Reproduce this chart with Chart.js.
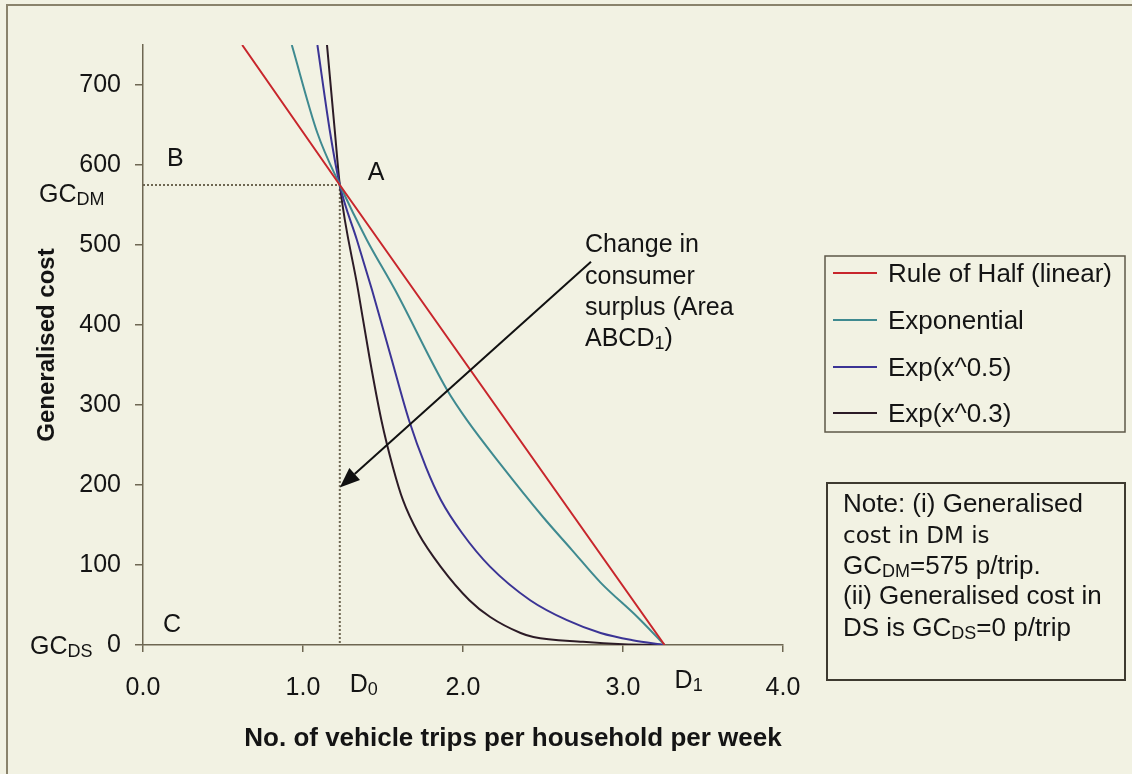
<!DOCTYPE html>
<html>
<head>
<meta charset="utf-8">
<script src="https://cdn.jsdelivr.net/npm/chart.js@4.4.1/dist/chart.umd.min.js"></script>
<style>
  body { margin: 0; background: #f2f2e3; }
  canvas { display: block; }
</style>
</head>
<body>
<canvas id="demandChart" width="1132" height="774"></canvas>
<script>
// series names (legend order)
const seriesNames = ["Rule of Half (linear)", "Exponential", "Exp(x^0.5)", "Exp(x^0.3)"];
const seriesColors = ["#c8262c", "#3f8a90", "#3b3495", "#2c1b26"];

// demand curves: trips per household per week vs generalised cost
const linearX = [0.62, 1.23, 3.26];
const linearY = [750, 575, 0];

const expX = [0.93, 1.09, 1.23, 1.4, 1.575, 1.9, 2.025, 2.23, 2.5, 2.68, 2.86, 3.09, 3.26];
const expY = [750, 640, 575, 506, 444, 319, 281, 227, 160, 119, 78, 35, 0];

const exp05X = [1.09, 1.17, 1.23, 1.3375, 1.431, 1.55, 1.6625, 1.769, 1.8625, 1.994, 2.169, 2.42, 2.65, 2.86, 3.06, 3.26];
const exp05Y = [750, 640, 575, 506, 444, 360, 281, 222, 181, 140, 98, 56, 31, 15, 6, 0];

const exp03X = [1.15, 1.2, 1.23, 1.344, 1.415, 1.49, 1.5625, 1.625, 1.72, 1.86, 2.04, 2.17, 2.36, 2.44, 2.75, 3.0, 3.26];
const exp03Y = [750, 640, 575, 444, 360, 281, 222, 181, 140, 98, 56, 35, 15, 10, 4, 1, 0];

// do-minimum point A and the guide lines
const gcDM = 575;
const gcDS = 0;
const tripsD0 = 1.23;
const tripsD1 = 3.26;

// arrow for the consumer surplus note (data coords)
const arrowFrom = [2.8, 479];
const arrowTo = [1.23, 197];

// axis ticks
const xTicks = [0, 1, 2, 3, 4];
const yTicks = [0, 100, 200, 300, 400, 500, 600, 700];

const FONT = "'Liberation Sans', Arial, sans-serif";
const axisColor = "#6e6752";
const textColor = "#141414";

function pts(xs, ys) {
  return xs.map((x, i) => ({ x: x, y: ys[i] }));
}

const curves = [
  pts(linearX, linearY),
  pts(expX, expY),
  pts(exp05X, exp05Y),
  pts(exp03X, exp03Y)
];

const datasets = curves.map((d, i) => ({
  label: seriesNames[i],
  data: d,
  borderColor: seriesColors[i],
  borderWidth: 2,
  pointRadius: 0,
  fill: false,
  cubicInterpolationMode: i === 0 ? 'default' : 'monotone',
  tension: 0
}));

// dotted guide lines at GC_DM and D0
datasets.push({
  label: "gcdm",
  data: [{ x: 0, y: gcDM }, { x: tripsD0, y: gcDM }],
  borderColor: axisColor, borderWidth: 2, borderDash: [2, 2], pointRadius: 0
});
datasets.push({
  label: "d0",
  data: [{ x: tripsD0, y: gcDM }, { x: tripsD0, y: gcDS }],
  borderColor: axisColor, borderWidth: 2, borderDash: [2, 2], pointRadius: 0
});

// text with subscripts: parts = [[text, isSub], ...]
function subText(ctx, x, y, parts, size, family) {
  let cx = x;
  parts.forEach(p => {
    const f = p[1] ? Math.round(size * 0.7) : size;
    ctx.font = f + "px " + (family || FONT);
    ctx.fillText(p[0], cx, p[1] ? y + size * 0.12 : y);
    cx += ctx.measureText(p[0]).width;
  });
  return cx;
}

const decor = {
  id: 'decor',
  beforeDraw(chart) {
    const ctx = chart.ctx;
    ctx.save();
    ctx.fillStyle = "#f2f2e3";
    ctx.fillRect(0, 0, chart.width, chart.height);
    // outer frame of the figure
    ctx.strokeStyle = "#8a836c";
    ctx.lineWidth = 2;
    ctx.beginPath();
    ctx.moveTo(7, 780);
    ctx.lineTo(7, 5);
    ctx.lineTo(1132, 5);
    ctx.stroke();
    ctx.restore();
  },
  afterDraw(chart) {
    const ctx = chart.ctx;
    const xs = chart.scales.x, ys = chart.scales.y;
    ctx.save();
    ctx.fillStyle = textColor;
    ctx.textBaseline = 'alphabetic';
    ctx.textAlign = 'left';

    // axis titles
    ctx.font = "bold 26px " + FONT;
    ctx.textAlign = 'center';
    ctx.fillText("No. of vehicle trips per household per week", 513, 746);
    ctx.save();
    ctx.translate(54, 345);
    ctx.rotate(-Math.PI / 2);
    ctx.font = "bold 24px " + FONT;
    ctx.fillText("Generalised cost", 0, 0);
    ctx.restore();
    ctx.textAlign = 'left';

    // point labels
    const pxA = xs.getPixelForValue(tripsD0);
    const pyDM = ys.getPixelForValue(gcDM);
    const pyDS = ys.getPixelForValue(gcDS);
    ctx.font = "25px " + FONT;
    ctx.fillText("A", pxA + 28, pyDM - 5);
    ctx.fillText("B", 167, pyDM - 19);
    ctx.fillText("C", 163, pyDS - 13);
    subText(ctx, 39, pyDM + 17, [["GC", false], ["DM", true]], 25);
    subText(ctx, 30, pyDS + 9, [["GC", false], ["DS", true]], 25);
    subText(ctx, pxA + 10, 692, [["D", false], ["0", true]], 25);
    subText(ctx, xs.getPixelForValue(tripsD1) + 10, 688, [["D", false], ["1", true]], 25);

    // consumer surplus note with arrow
    ctx.font = "25px " + FONT;
    ctx.fillText("Change in", 585, 252);
    ctx.fillText("consumer", 585, 284);
    ctx.fillText("surplus (Area", 585, 315);
    subText(ctx, 585, 346, [["ABCD", false], ["1", true], [")", false]], 25);

    const x0 = xs.getPixelForValue(arrowFrom[0]), y0 = ys.getPixelForValue(arrowFrom[1]);
    const x1 = xs.getPixelForValue(arrowTo[0]), y1 = ys.getPixelForValue(arrowTo[1]);
    const ang = Math.atan2(y1 - y0, x1 - x0);
    const hl = 20, hw = 8;
    const bx = x1 - hl * Math.cos(ang), by = y1 - hl * Math.sin(ang);
    ctx.strokeStyle = "#111";
    ctx.lineWidth = 2;
    ctx.beginPath();
    ctx.moveTo(x0, y0);
    ctx.lineTo(bx, by);
    ctx.stroke();
    ctx.fillStyle = "#111";
    ctx.beginPath();
    ctx.moveTo(x1, y1);
    ctx.lineTo(bx + hw * Math.sin(ang), by - hw * Math.cos(ang));
    ctx.lineTo(bx - hw * Math.sin(ang), by + hw * Math.cos(ang));
    ctx.closePath();
    ctx.fill();

    // legend box
    ctx.strokeStyle = "#5e5848";
    ctx.lineWidth = 1.5;
    ctx.strokeRect(825, 256, 300, 176);
    const rows = [273, 320, 367, 413];
    seriesNames.forEach((name, i) => {
      ctx.strokeStyle = seriesColors[i];
      ctx.lineWidth = 2;
      ctx.beginPath();
      ctx.moveTo(833, rows[i]);
      ctx.lineTo(877, rows[i]);
      ctx.stroke();
      ctx.fillStyle = textColor;
      ctx.font = "26px " + FONT;
      ctx.fillText(name, 888, rows[i] + 9);
    });

    // note box
    ctx.strokeStyle = "#3e3a30";
    ctx.lineWidth = 2;
    ctx.strokeRect(827, 483, 298, 197);
    ctx.fillStyle = textColor;
    ctx.font = "26px " + FONT;
    ctx.fillText("Note: (i) Generalised", 843, 512);
    ctx.font = "23px 'DejaVu Sans', sans-serif";
    ctx.fillText("cost in DM is", 843, 543);
    subText(ctx, 843, 574, [["GC", false], ["DM", true], ["=575 p/trip.", false]], 26);
    ctx.font = "26px " + FONT;
    ctx.fillText("(ii) Generalised cost in", 843, 604);
    subText(ctx, 843, 636, [["DS is GC", false], ["DS", true], ["=0 p/trip", false]], 26);

    ctx.restore();
  }
};

new Chart(document.getElementById("demandChart"), {
  type: 'line',
  data: { datasets: datasets },
  options: {
    responsive: false,
    animation: false,
    layout: { padding: { left: 0, top: 45, right: 349, bottom: 0 } },
    plugins: {
      legend: { display: false },
      tooltip: { enabled: false }
    },
    scales: {
      x: {
        type: 'linear',
        min: xTicks[0],
        max: xTicks[xTicks.length - 1],
        afterBuildTicks: s => { s.ticks = xTicks.map(v => ({ value: v })); },
        afterFit: s => { s.height = 129; },
        ticks: {
          callback: v => v.toFixed(1),
          font: { family: FONT, size: 25 },
          color: textColor,
          padding: 21,
          maxRotation: 0
        },
        grid: { drawOnChartArea: false, tickLength: 7, color: axisColor, lineWidth: 1.5 },
        border: { color: axisColor, width: 1.5 }
      },
      y: {
        min: 0,
        max: 750,
        afterBuildTicks: s => { s.ticks = yTicks.map(v => ({ value: v })); },
        afterFit: s => { s.width = 143; },
        ticks: {
          font: { family: FONT, size: 25 },
          color: textColor,
          padding: 14
        },
        grid: { drawOnChartArea: false, tickLength: 8, color: axisColor, lineWidth: 1.5 },
        border: { color: axisColor, width: 1.5 }
      }
    }
  },
  plugins: [decor]
});
</script>
</body>
</html>
